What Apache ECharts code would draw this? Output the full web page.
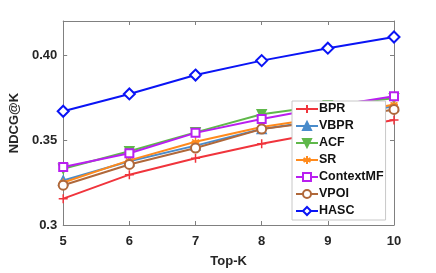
<!DOCTYPE html>
<html><head><meta charset="utf-8">
<script src="https://cdn.jsdelivr.net/npm/echarts@6/dist/echarts.min.js"></script>
<style>html,body{margin:0;padding:0;background:#fff}#c{width:436px;height:273px}</style>
</head><body><div id="c"></div>
<script>
const topK = [5, 6, 7, 8, 9, 10];
const BPR = [0.3155, 0.3296, 0.3393, 0.3478, 0.3550, 0.3618];
const VBPR = [0.3262, 0.3375, 0.3467, 0.3565, 0.3620, 0.3700];
const ACF = [0.3331, 0.3434, 0.3545, 0.3651, 0.3705, 0.3745];
const SR = [0.3250, 0.3380, 0.3490, 0.3577, 0.3635, 0.3709];
const ContextMF = [0.3341, 0.3422, 0.3542, 0.3623, 0.3695, 0.3757];
const VPOI = [0.3234, 0.3356, 0.3453, 0.3564, 0.3615, 0.3680];
const HASC = [0.3669, 0.3771, 0.3882, 0.3967, 0.4040, 0.4106];
const yTickLabels = {'0.3': '0.3', '0.35': '0.35', '0.4': '0.40'};

const FONT = 'Liberation Sans';
const plus = 'path://M5,0L5,10M0,5L10,5';
const star = 'path://M5,0L5,10M0.7,2.5L9.3,7.5M0.7,7.5L9.3,2.5M0,5L10,5';
function mk(name, data, color, symbol, extra) {
  return Object.assign({
    name: name, type: 'line', data: topK.map((k, i) => [k, data[i]]),
    symbol: symbol, symbolSize: 8,
    lineStyle: {color: color, width: 2},
    itemStyle: {color: color, borderColor: color, borderWidth: 1.5},
    emphasis: {disabled: true}, animation: false
  }, extra || {});
}
const series = [
  mk('BPR', BPR, '#f0343c', plus, {symbolSize: 9}),
  mk('VBPR', VBPR, '#4a8ccb', 'triangle', {symbolSize: 9}),
  mk('ACF', ACF, '#5fb84a', 'triangle', {symbolRotate: 180, symbolSize: 9}),
  mk('SR', SR, '#ff8a1c', star, {symbolSize: 8}),
  mk('ContextMF', ContextMF, '#b91ff0', 'emptyRect', {symbolSize: 8, itemStyle: {color: '#b91ff0', borderWidth: 1.5}}),
  mk('VPOI', VPOI, '#b0683a', 'emptyCircle', {symbolSize: 9, itemStyle: {color: '#b0683a', borderWidth: 1.5}}),
  mk('HASC', HASC, '#0a14f5', 'emptyDiamond', {symbolSize: 11, itemStyle: {color: '#0a14f5', borderWidth: 2}})
];
const axisCol = '#808080';
const chart = echarts.init(document.getElementById('c'), null, {renderer: 'canvas'});
chart.setOption({
  backgroundColor: '#fff',
  animation: false,
  grid: {left: 58, right: 42, top: 21, bottom: 46, containLabel: false},
  legend: {
    orient: 'vertical', left: 292, top: 101,
    backgroundColor: '#fff', borderColor: '#c8c8c8', borderWidth: 1,
    padding: [1, 2, 2, 3], itemGap: 3, itemWidth: 22, itemHeight: 10,
    textStyle: {fontFamily: FONT, fontWeight: 'bold', fontSize: 12.5, color: '#111', lineHeight: 14, padding: [0, 0, 0, -4]},
    data: series.map(s => s.name)
  },
  xAxis: [{
    type: 'value', min: 5, max: 10, interval: 1,
    name: 'Top-K', nameLocation: 'middle', nameGap: 30,
    nameTextStyle: {fontFamily: FONT, fontWeight: 'bold', fontSize: 13, color: '#262626'},
    axisLine: {show: true, lineStyle: {color: axisCol}},
    axisTick: {show: true, inside: true, length: 4, lineStyle: {color: axisCol}},
    axisLabel: {fontFamily: FONT, fontWeight: 'bold', fontSize: 13, color: '#262626', margin: 10},
    splitLine: {show: false}
  }, {
    type: 'value', min: 5, max: 10, interval: 1, position: 'top',
    axisLine: {show: true, lineStyle: {color: axisCol}},
    axisTick: {show: true, inside: true, length: 4, lineStyle: {color: axisCol}},
    axisLabel: {show: false}, splitLine: {show: false}
  }],
  yAxis: [{
    type: 'value', min: 0.3, max: 0.42, interval: 0.05,
    name: 'NDCG@K', nameLocation: 'middle', nameGap: 34,
    nameTextStyle: {fontFamily: FONT, fontWeight: 'bold', fontSize: 13, color: '#262626'},
    axisLine: {show: true, lineStyle: {color: axisCol}},
    axisTick: {show: true, inside: true, length: 4, lineStyle: {color: axisCol}},
    axisLabel: {fontFamily: FONT, fontWeight: 'bold', fontSize: 13, color: '#262626', margin: 6,
      formatter: v => { const k = String(+v.toFixed(2)); return yTickLabels[k] || ''; }},
    splitLine: {show: false}
  }, {
    type: 'value', min: 0.3, max: 0.42, interval: 0.05, position: 'right',
    axisLine: {show: true, lineStyle: {color: axisCol}},
    axisTick: {show: true, inside: true, length: 4, lineStyle: {color: axisCol}},
    axisLabel: {show: false}, splitLine: {show: false}
  }],
  series: series
});
</script></body></html>
